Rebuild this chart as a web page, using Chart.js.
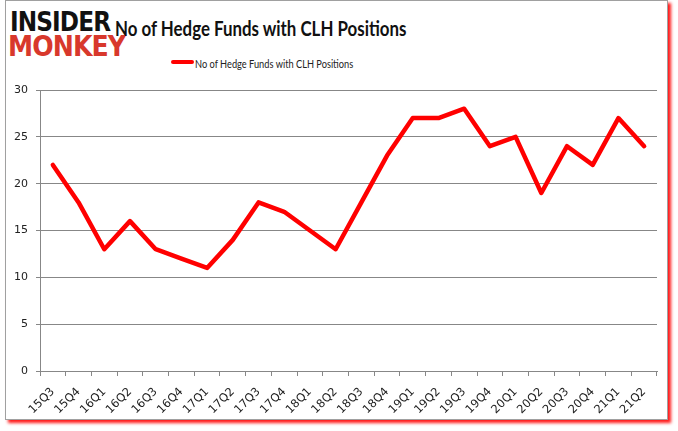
<!DOCTYPE html>
<html lang="en">
<head>
    <meta charset="UTF-8">
    <title>No of Hedge Funds with CLH Positions</title>
    <script src="https://cdn.jsdelivr.net/npm/chart.js"></script>
    <style>
        body {
            margin: 0;
            width: 678px;
            height: 431px;
            background: #ffffff;
            position: relative;
            overflow: hidden;
            font-family: Lato, "Noto Sans", sans-serif;
        }
        .frame {
            position: absolute;
            left: 5px;
            top: 0;
            width: 661px;
            height: 418px;
            border: 1px solid #a0a0a0;
            background: #fff;
            box-shadow: 3px 3px 3px #ff1a1a;
        }
        .fit {
            position: absolute;
            white-space: nowrap;
            transform-origin: 0 0;
            line-height: 1;
        }
        #logo1 { left: 10px; top: 7px; font: 900 26px "DejaVu Sans", sans-serif; color: #111; letter-spacing: -1px; }
        #logo2 { left: 8px; top: 30px; font: 900 28px "DejaVu Sans", sans-serif; color: #d8382c; letter-spacing: -1px; }
        #title { left: 115px; top: 16px; font: bold 20px Lato, "Noto Sans", sans-serif; color: #111; }
        #legendText { left: 195px; top: 56px; font: 12px Lato, "Noto Sans", sans-serif; color: #222; }
        #legendLine { position: absolute; left: 171px; top: 60px; width: 23px; height: 4px; background: #ff0000; border-radius: 2px; }
        canvas { position: absolute; left: 0; top: 0; }
    </style>
</head>
<body>
    <div class="frame"></div>
    <div class="fit" id="logo1" data-w="100">INSIDER</div>
    <div class="fit" id="logo2" data-w="117">MONKEY</div>
    <div class="fit" id="title" data-w="291">No of Hedge Funds with CLH Positions</div>
    <div id="legendLine"></div>
    <div class="fit" id="legendText" data-w="158">No of Hedge Funds with CLH Positions</div>
    <canvas id="chart" width="678" height="431"></canvas>
    <script>
        const quarters = ['15Q3', '15Q4', '16Q1', '16Q2', '16Q3', '16Q4', '17Q1', '17Q2', '17Q3', '17Q4',
            '18Q1', '18Q2', '18Q3', '18Q4', '19Q1', '19Q2', '19Q3', '19Q4', '20Q1', '20Q2',
            '20Q3', '20Q4', '21Q1', '21Q2'];
        const hedgeFunds = [22, 18, 13, 16, 13, 12, 11, 14, 18, 17, 15, 13, 18, 23, 27, 27, 28, 24, 25, 19, 24, 22, 27, 24];
        const yTicks = [0, 5, 10, 15, 20, 25, 30];

        // squeeze the text boxes to the widths seen in the picture
        document.querySelectorAll('.fit').forEach(el => {
            const w = el.offsetWidth;
            el.style.transform = 'scaleX(' + (parseFloat(el.dataset.w) / w) + ')';
        });

        const gridColor = '#878787';

        new Chart(document.getElementById('chart'), {
            type: 'line',
            data: {
                labels: quarters,
                datasets: [{
                    label: 'No of Hedge Funds with CLH Positions',
                    data: hedgeFunds,
                    borderColor: '#ff0000',
                    borderWidth: 4.5,
                    pointRadius: 0,
                    tension: 0,
                    borderJoinStyle: 'round',
                    borderCapStyle: 'round'
                }]
            },
            options: {
                responsive: false,
                animation: false,
                devicePixelRatio: 1,
                layout: { padding: { top: 90, right: 21, left: 0, bottom: 0 } },
                plugins: {
                    legend: { display: false },
                    title: { display: false },
                    tooltip: { enabled: false }
                },
                scales: {
                    x: {
                        offset: true,
                        afterFit: scale => { scale.height = 60; },
                        grid: {
                            offset: true,
                            drawOnChartArea: false,
                            drawTicks: true,
                            tickLength: 5,
                            color: gridColor
                        },
                        border: { color: gridColor, width: 1 },
                        ticks: {
                            minRotation: 45,
                            maxRotation: 45,
                            autoSkip: false,
                            padding: 9,
                            color: '#222',
                            font: { family: 'DejaVu Sans', size: 11.5 }
                        }
                    },
                    y: {
                        min: 0,
                        max: 30,
                        afterFit: scale => { scale.width = 40; },
                        afterBuildTicks: scale => { scale.ticks = yTicks.map(v => ({ value: v })); },
                        grid: {
                            color: gridColor,
                            tickLength: 4,
                            lineWidth: 1
                        },
                        border: { color: gridColor, width: 1 },
                        ticks: {
                            padding: 8,
                            color: '#222',
                            font: { family: 'DejaVu Sans', size: 11 }
                        }
                    }
                }
            }
        });
    </script>
</body>
</html>
